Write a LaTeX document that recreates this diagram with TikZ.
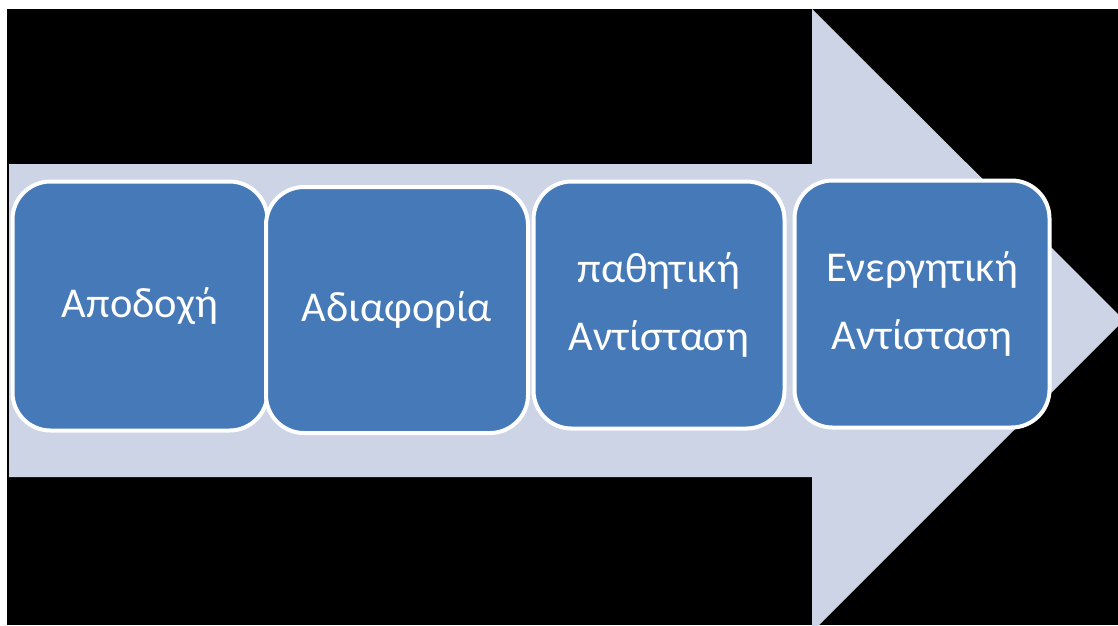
\documentclass[tikz,border=0pt]{standalone}
\usepackage{fontspec}
\setmainfont{Carlito}
\usepackage{tikz}

\definecolor{shaftgrey}{HTML}{CDD4E6}
\definecolor{boxblue}{HTML}{4679B8}

\tikzset{
    stage/.style={draw=white, line width=4pt, fill=boxblue, rounded corners=38pt,
        text=white, align=center, font=\fontsize{42.5}{68}\selectfont,
        minimum width=254pt, minimum height=247pt, inner sep=0pt}
}

\begin{document}
\begin{tikzpicture}[x=1pt, y=-1pt]
            \useasboundingbox (0,0) rectangle (1118,625);
            \fill[white] (0,0) rectangle (1118,625);
            \fill[black] (7,9) rectangle (1118,625);

            \begin{scope}
                \clip (7,9) rectangle (1118,625);
                \fill[shaftgrey] (9,164) -- (812,164) -- (812,9) -- (1124,320)
                    -- (812,632) -- (812,477) -- (9,477) -- cycle;
            \end{scope}

            \node[stage, minimum width=255pt, minimum height=249pt] (accept) at (140,306) {Αποδοχή};
            \node[stage, minimum width=262pt, minimum height=246pt] (indiff) at (397,310) {Αδιαφορία};
            \node[stage, minimum width=251pt] (passive) at (659,305) {παθητική\\Αντίσταση};
            \node[stage, minimum width=255pt] (active) at (922,304) {Ενεργητική\\Αντίσταση};
        \end{tikzpicture}
\end{document}
